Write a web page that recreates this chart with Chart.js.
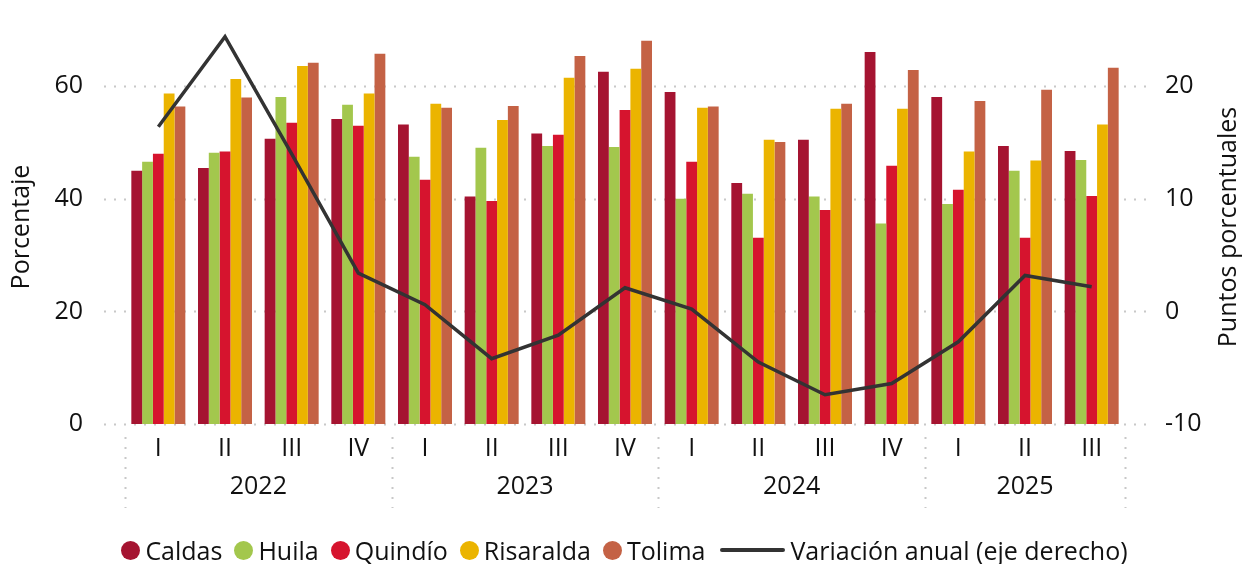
<!DOCTYPE html>
<html>
<head>
<meta charset="utf-8">
<title>Porcentaje por departamento</title>
<script src="https://cdn.jsdelivr.net/npm/chart.js@4.4.1/dist/chart.umd.min.js"></script>
<style>
    body { margin: 0; background: #fff; }
    #contenedor { position: relative; width: 1243px; height: 564px; font-family: 'Open Sans', sans-serif; }
    #leyenda {
        position: absolute; left: 6px; right: 0; top: 533px;
        display: flex; justify-content: center; align-items: center;
        font-size: 25px; color: #111; white-space: nowrap;
    }
    .item { display: flex; align-items: center; margin: 0 6px; }
    .punto { width: 19px; height: 19px; border-radius: 50%; margin-right: 5px; }
    .linea { width: 65px; height: 4px; border-radius: 2px; margin-right: 5px; margin-left: 3px; }
</style>
</head>
<body>
<div id="contenedor">
    <canvas id="grafico" width="1243" height="564"></canvas>
    <div id="leyenda"></div>
</div>
<script>
// datos
const trimestres = ['I', 'II', 'III', 'IV', 'I', 'II', 'III', 'IV', 'I', 'II', 'III', 'IV', 'I', 'II', 'III'];
const anios = ['2022', '2023', '2024', '2025'];
const trimestresPorAnio = [4, 4, 4, 3];

const caldas    = [45.0, 45.5, 50.7, 54.2, 53.2, 40.4, 51.6, 62.6, 59.0, 42.8, 50.5, 66.1, 58.1, 49.4, 48.5];
const huila     = [46.6, 48.2, 58.1, 56.7, 47.5, 49.1, 49.4, 49.2, 40.0, 40.9, 40.4, 35.6, 39.1, 45.0, 46.9];
const quindio   = [48.0, 48.4, 53.5, 53.0, 43.4, 39.6, 51.4, 55.8, 46.6, 33.1, 38.0, 45.9, 41.6, 33.1, 40.5];
const risaralda = [58.7, 61.3, 63.6, 58.7, 56.9, 54.0, 61.5, 63.1, 56.2, 50.5, 56.0, 56.0, 48.4, 46.8, 53.2];
const tolima    = [56.4, 58.0, 64.2, 65.8, 56.2, 56.5, 65.4, 68.1, 56.4, 50.1, 56.9, 62.9, 57.4, 59.4, 63.3];
const variacionAnual = [16.4, 24.4, 14.0, 3.4, 0.6, -4.2, -2.1, 2.1, 0.2, -4.5, -7.4, -6.4, -2.7, 3.2, 2.2];

const colores = {
    caldas: '#a51431',
    huila: '#a3c74d',
    quindio: '#d6142e',
    risaralda: '#ebb400',
    tolima: '#c46245',
    linea: '#333333'
};

const fuente = "'Open Sans', sans-serif";
const tamano = 25;
const colorTexto = '#111111';
const colorRejilla = '#c8c8c8';

function punteada(ctx, x1, y1, x2, y2) {
    ctx.save();
    ctx.strokeStyle = colorRejilla;
    ctx.lineWidth = 2;
    ctx.setLineDash([2, 8]);
    ctx.beginPath();
    ctx.moveTo(x1, y1);
    ctx.lineTo(x2, y2);
    ctx.stroke();
    ctx.restore();
}

// rejilla punteada, separadores de año, años y título del eje derecho
const decoracion = {
    id: 'decoracion',
    beforeDatasetsDraw(chart) {
        const { ctx, chartArea, scales } = chart;
        scales.y.ticks.forEach(t => {
            const y = Math.round(scales.y.getPixelForValue(t.value)) + 0.5;
            punteada(ctx, chartArea.left - 21, y, chartArea.right + 22, y);
        });
    },
    afterDraw(chart) {
        const { ctx, chartArea, scales } = chart;
        const x = scales.x;
        const anchoCat = x.width / trimestres.length;

        let inicio = 0;
        ctx.save();
        ctx.font = tamano + 'px ' + fuente;
        ctx.fillStyle = colorTexto;
        ctx.textAlign = 'center';
        ctx.textBaseline = 'middle';
        anios.forEach((anio, i) => {
            const fin = inicio + trimestresPorAnio[i] - 1;
            const xi = x.getPixelForValue(inicio) - anchoCat / 2;
            const xf = x.getPixelForValue(fin) + anchoCat / 2;
            const centro = (x.getPixelForValue(inicio) + x.getPixelForValue(fin)) / 2;
            ctx.fillText(anio, centro, chartArea.bottom + 63);
            if (i === 0) punteada(ctx, Math.round(xi) + 0.5, chartArea.bottom + 13, Math.round(xi) + 0.5, chartArea.bottom + 84);
            punteada(ctx, Math.round(xf) + 0.5, chartArea.bottom + 13, Math.round(xf) + 0.5, chartArea.bottom + 84);
            inicio = fin + 1;
        });

        // título eje derecho, leído de abajo hacia arriba
        ctx.translate(1229, (chartArea.top + chartArea.bottom) / 2);
        ctx.rotate(-Math.PI / 2);
        ctx.fillText('Puntos porcentuales', 0, 0);
        ctx.restore();
    }
};

function barras(etiqueta, datos, color) {
    return {
        type: 'bar',
        label: etiqueta,
        data: datos,
        backgroundColor: color,
        borderWidth: 0,
        yAxisID: 'y',
        barPercentage: 1.0,
        categoryPercentage: 0.81,
        order: 2
    };
}

function sinRelleno(scale) {
    scale.paddingTop = 0;
    scale.paddingBottom = 0;
}

const grafico = new Chart(document.getElementById('grafico'), {
    data: {
        labels: trimestres,
        datasets: [
            barras('Caldas', caldas, colores.caldas),
            barras('Huila', huila, colores.huila),
            barras('Quindío', quindio, colores.quindio),
            barras('Risaralda', risaralda, colores.risaralda),
            barras('Tolima', tolima, colores.tolima),
            {
                type: 'line',
                label: 'Variación anual (eje derecho)',
                data: variacionAnual,
                borderColor: colores.linea,
                backgroundColor: colores.linea,
                borderWidth: 3.5,
                pointRadius: 0,
                tension: 0,
                yAxisID: 'y1',
                order: 1
            }
        ]
    },
    options: {
        responsive: false,
        animation: false,
        layout: { padding: { top: 30, left: 0, right: 0, bottom: 0 } },
        plugins: {
            legend: { display: false },
            tooltip: { enabled: false }
        },
        scales: {
            x: {
                grid: { display: false, drawTicks: false },
                border: { display: false },
                ticks: { font: { family: fuente, size: tamano }, color: colorTexto, padding: 10, maxRotation: 0, autoSkip: false },
                afterFit(scale) { scale.height = 140; }
            },
            y: {
                position: 'left',
                min: 0,
                max: 70,
                grid: { display: false, drawTicks: false },
                border: { display: false },
                ticks: { stepSize: 20, font: { family: fuente, size: tamano }, color: colorTexto, padding: 42 },
                afterBuildTicks(scale) { scale.ticks = scale.ticks.filter(t => t.value % 20 === 0); },
                title: { display: true, text: 'Porcentaje', font: { family: fuente, size: tamano }, color: colorTexto, padding: { top: 7, bottom: 0 } },
                afterFit(scale) { scale.width = 125; sinRelleno(scale); }
            },
            y1: {
                position: 'right',
                min: -10,
                max: 25,
                grid: { display: false, drawTicks: false },
                border: { display: false },
                ticks: { stepSize: 10, font: { family: fuente, size: tamano }, color: colorTexto, padding: 40 },
                afterBuildTicks(scale) { scale.ticks = scale.ticks.filter(t => t.value % 10 === 0); },
                afterFit(scale) { scale.width = 118; sinRelleno(scale); }
            }
        }
    },
    plugins: [decoracion]
});

// leyenda en html a partir de las series
const leyenda = document.getElementById('leyenda');
leyenda.innerHTML = grafico.data.datasets.map(ds => {
    const marca = ds.type === 'line'
        ? `<span class="linea" style="background:${ds.borderColor}"></span>`
        : `<span class="punto" style="background:${ds.backgroundColor}"></span>`;
    return `<span class="item">${marca}${ds.label}</span>`;
}).join('');
</script>
</body>
</html>
